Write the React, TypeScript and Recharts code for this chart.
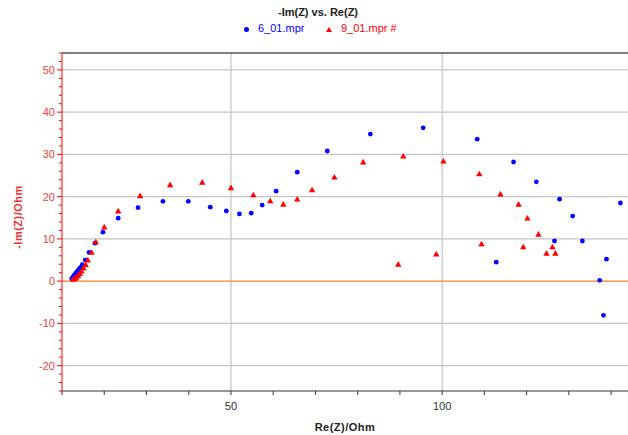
import { ScatterChart, Scatter, XAxis, YAxis, ReferenceLine } from 'recharts';

// Nyquist data, Re(Z) / -Im(Z) in Ohm
const blueRe = [12.3, 12.6, 12.9, 13.2, 13.5, 13.9, 14.3, 14.8, 15.5, 16.4, 17.8, 19.7, 23.3, 28.0, 33.9, 39.9, 45.1, 48.9, 52.0, 54.8, 57.4, 60.7, 65.7, 72.8, 83.0, 95.5, 108.3, 116.9, 122.3, 127.8, 130.9, 142.2, 126.6, 133.2, 112.8, 138.9, 137.3, 138.2];
const blueIm = [0.6, 1.0, 1.4, 1.8, 2.2, 2.7, 3.2, 3.9, 5.0, 6.8, 9.0, 11.6, 14.9, 17.4, 18.9, 18.9, 17.5, 16.6, 15.9, 16.1, 18.0, 21.3, 25.8, 30.8, 34.8, 36.3, 33.6, 28.2, 23.5, 19.4, 15.4, 18.5, 9.5, 9.5, 4.5, 5.2, 0.2, -8.1];

const redRe = [12.6, 13.0, 13.4, 13.8, 14.2, 14.6, 15.1, 15.6, 16.1, 17.0, 18.0, 20.0, 23.3, 28.5, 35.6, 43.2, 50.0, 55.3, 59.3, 62.4, 65.7, 69.2, 74.5, 81.3, 90.8, 100.3, 108.8, 113.8, 118.1, 120.2, 122.8, 126.1, 124.7, 126.8, 119.2, 109.3, 98.6, 89.6];
const redIm = [0.4, 0.6, 0.9, 1.3, 1.8, 2.4, 3.1, 3.9, 5.0, 6.8, 9.3, 12.8, 16.6, 20.2, 22.8, 23.4, 22.1, 20.4, 19.0, 18.2, 19.4, 21.6, 24.6, 28.2, 29.6, 28.4, 25.4, 20.6, 18.2, 14.9, 11.1, 8.1, 6.6, 6.6, 8.1, 8.8, 6.4, 4.0];

const xTicks = [10, 20, 30, 40, 50, 60, 70, 80, 90, 100, 110, 120, 130, 140];
const xLabels = [50, 100];
const yMajor = [-20, -10, 0, 10, 20, 30, 40, 50];
const yTicks: number[] = [];
for (let v = -26; v <= 54; v += 2) yTicks.push(v);
const hGrid = [-20, -10, 10, 20, 30, 40, 50];
const vGrid = [50, 100];

const blueData = blueRe.map((x, i) => ({ x, y: blueIm[i] }));
const redData = redRe.map((x, i) => ({ x, y: redIm[i] }));

const FONT = '"Liberation Sans", Arial, sans-serif';

const Dot = (p: any) => <circle cx={p.cx} cy={p.cy} r={2.4} fill="#0000ff" />;
const Tri = (p: any) => (
  <path d={`M${p.cx},${p.cy - 3.2} L${p.cx + 3.2},${p.cy + 2.4} L${p.cx - 3.2},${p.cy + 2.4} Z`} fill="#ff0000" />
);

const YTick = (props: any) => {
  const { x, y, payload } = props;
  const major = yMajor.includes(payload.value);
  return (
    <g>
      <line x1={x - (major ? 5 : 3)} x2={x} y1={y} y2={y} stroke="#ff0000" />
      {major && (
        <text x={x - 7} y={y} dy={4} textAnchor="end" fill="#f04040" fontSize={11} fontFamily={FONT}>
          {payload.value}
        </text>
      )}
    </g>
  );
};

const XTick = (props: any) => {
  const { x, y, payload } = props;
  return (
    <g>
      <line x1={x} x2={x} y1={y} y2={y + 4} stroke="#333" />
      {xLabels.includes(payload.value) && (
        <text x={x} y={y + 19} textAnchor="middle" fill="#333" fontSize={11} fontFamily={FONT}>
          {payload.value}
        </text>
      )}
    </g>
  );
};

export default function App() {
  return (
    <div style={{ position: 'absolute', left: 0, top: 0, width: 628, height: 435, background: '#fff', fontFamily: FONT }}>
      <div style={{ position: 'absolute', left: 0, width: 636, top: 6, textAlign: 'center', fontSize: 11, fontWeight: 'bold', color: '#222' }}>
        -Im(Z) vs. Re(Z)
      </div>
      <div style={{ position: 'absolute', left: 244, top: 22, fontSize: 11, color: '#0000ff', whiteSpace: 'nowrap' }}>
        <span style={{ display: 'inline-block', width: 5, height: 5, borderRadius: 3, background: '#0000ff', marginRight: 9, verticalAlign: 'middle' }} />
        6_01.mpr
      </div>
      <div style={{ position: 'absolute', left: 326, top: 22, fontSize: 11, color: '#ff0000', whiteSpace: 'nowrap' }}>
        <span style={{ display: 'inline-block', width: 0, height: 0, borderLeft: '3px solid transparent', borderRight: '3px solid transparent', borderBottom: '5px solid #ff0000', marginRight: 9, verticalAlign: 'middle' }} />
        9_01.mpr #
      </div>
      <div style={{ position: 'absolute', left: 18, top: 217, transform: 'translate(-50%, -50%) rotate(-90deg)', fontSize: 11, fontWeight: 'bold', color: '#f03030', whiteSpace: 'nowrap', letterSpacing: 0.5 }}>
        -Im(Z)/Ohm
      </div>
      <div style={{ position: 'absolute', left: 345, top: 427, transform: 'translate(-50%, -50%)', fontSize: 11, lineHeight: '12px', fontWeight: 'bold', color: '#222', whiteSpace: 'nowrap', letterSpacing: 0.5 }}>
        Re(Z)/Ohm
      </div>
      <ScatterChart width={628} height={435} margin={{ top: 53, right: 0, bottom: 0, left: 0 }}>
        <XAxis
          type="number"
          dataKey="x"
          domain={[10, 144]}
          ticks={xTicks}
          interval={0}
          height={44}
          tickSize={0}
          tickMargin={0}
          tickLine={false}
          axisLine={{ stroke: '#333' }}
          tick={<XTick />}
          allowDataOverflow
        />
        <YAxis
          type="number"
          dataKey="y"
          domain={[-26, 54]}
          ticks={yTicks}
          interval={0}
          width={62}
          tickSize={0}
          tickMargin={0}
          tickLine={false}
          axisLine={{ stroke: '#ff0000' }}
          tick={<YTick />}
          allowDataOverflow
        />
        {hGrid.map((v) => (
          <ReferenceLine key={'h' + v} y={v} stroke="#c4c4c4" strokeWidth={1.2} />
        ))}
        {vGrid.map((v) => (
          <ReferenceLine key={'v' + v} x={v} stroke="#c4c4c4" strokeWidth={1.2} />
        ))}
        <ReferenceLine y={0} stroke="#f5821f" strokeWidth={1.2} />
        <ReferenceLine y={54} stroke="#555" strokeWidth={1.5} />
        <Scatter name="6_01.mpr" data={blueData} shape={<Dot />} isAnimationActive={false} />
        <Scatter name="9_01.mpr #" data={redData} shape={<Tri />} isAnimationActive={false} />
      </ScatterChart>
    </div>
  );
}
